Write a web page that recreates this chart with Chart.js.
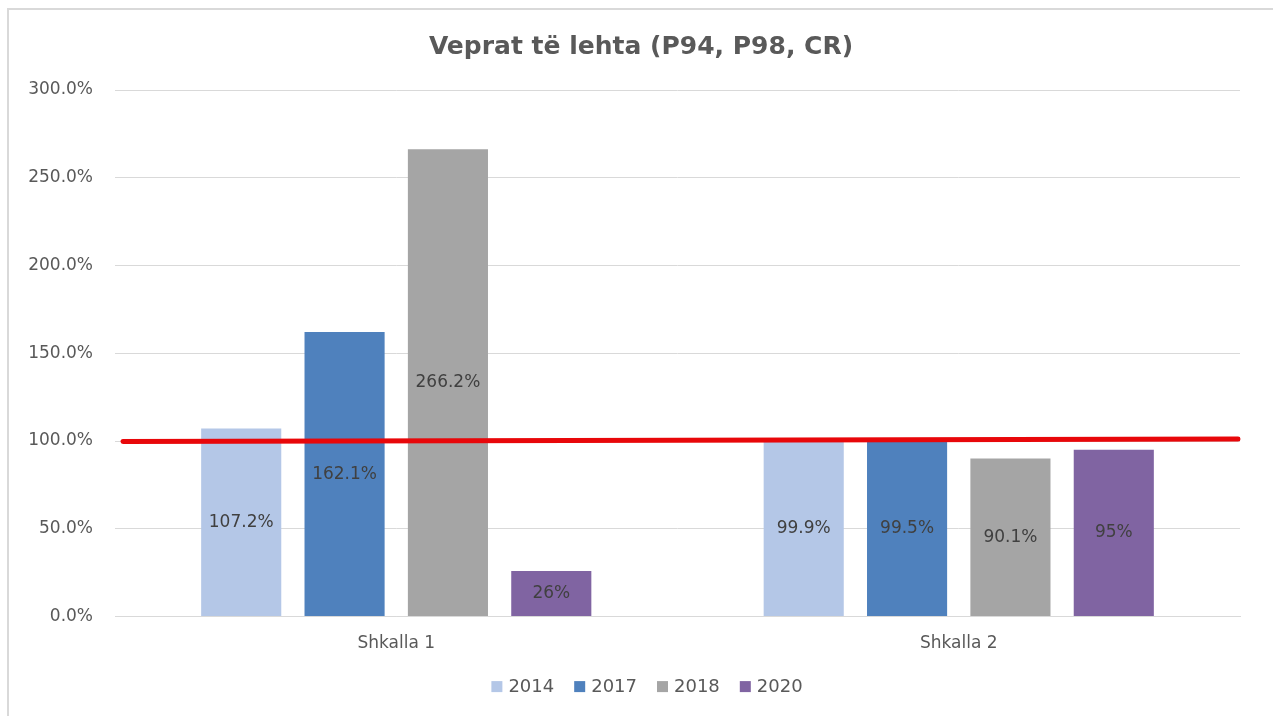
<!DOCTYPE html>
<html>
<head>
<meta charset="utf-8">
<script src="https://cdn.jsdelivr.net/npm/chart.js@4.4.1/dist/chart.umd.min.js"></script>
<style>
  html, body { margin: 0; padding: 0; background: #fff; }
  #wrap {
    position: absolute;
    left: 7px; top: 8px;
    width: 1266px; height: 708px;
    border-left: 2px solid #d9d9d9;
    border-top: 2px solid #d9d9d9;
    box-sizing: border-box;
  }
  canvas { display: block; }
</style>
</head>
<body>
<div id="wrap"><canvas id="chart"></canvas></div>
<script>
const categories = ['Shkalla 1', 'Shkalla 2']
const years = ['2014', '2017', '2018', '2020']
const values2014 = [107.2, 99.9]
const values2017 = [162.1, 99.5]
const values2018 = [266.2, 90.1]
const values2020 = [26, 95]
const valueLabels = [
  ['107.2%', '99.9%'],
  ['162.1%', '99.5%'],
  ['266.2%', '90.1%'],
  ['26%', '95%']
]
// hand-drawn 100% reference line, left and right end values
const targetLine = [99.8, 101.2]

const colors = ['#b4c7e7', '#4f81bd', '#a5a5a5', '#8064a2']
const textColor = '#595959'
const fontFamily = "'DejaVu Sans', sans-serif"

Chart.defaults.font.family = fontFamily

// draws each value in the middle of its bar
const barValues = {
  id: 'barValues',
  afterDatasetsDraw(chart) {
    const ctx = chart.ctx
    ctx.save()
    ctx.font = '17px ' + fontFamily
    ctx.fillStyle = '#404040'
    ctx.textAlign = 'center'
    ctx.textBaseline = 'middle'
    chart.data.datasets.forEach((ds, i) => {
      chart.getDatasetMeta(i).data.forEach((bar, j) => {
        const mid = (bar.y + bar.base) / 2
        ctx.fillText(valueLabels[i][j], bar.x, mid)
      })
    })
    ctx.restore()
  }
}

// red target line across the plot
const targetPlugin = {
  id: 'targetPlugin',
  afterDraw(chart) {
    const {ctx, chartArea, scales} = chart
    ctx.save()
    ctx.strokeStyle = '#e8070a'
    ctx.lineWidth = 5
    ctx.lineCap = 'round'
    ctx.beginPath()
    ctx.moveTo(chartArea.left + 8, scales.y.getPixelForValue(targetLine[0]))
    ctx.lineTo(chartArea.right - 2, scales.y.getPixelForValue(targetLine[1]))
    ctx.stroke()
    ctx.restore()
  }
}

// small legend row under the axis labels
const bottomLegend = {
  id: 'bottomLegend',
  afterDraw(chart) {
    const ctx = chart.ctx
    const box = 11, gap = 6, spacing = 20
    ctx.save()
    ctx.font = '18px ' + fontFamily
    ctx.textBaseline = 'middle'
    const widths = years.map(t => box + gap + ctx.measureText(t).width)
    const total = widths.reduce((a, b) => a + b, 0) + spacing * (years.length - 1)
    let x = chart.width / 2 - total / 2 + 6
    const y = chart.chartArea.bottom + 70
    years.forEach((t, i) => {
      ctx.fillStyle = chart.data.datasets[i].backgroundColor
      ctx.fillRect(x, y - box / 2, box, box)
      ctx.fillStyle = textColor
      ctx.fillText(t, x + box + gap, y + 1)
      x += widths[i] + spacing
    })
    ctx.restore()
  }
}

const datasets = [values2014, values2017, values2018, values2020].map((data, i) => ({
  label: years[i],
  data,
  backgroundColor: colors[i],
  categoryPercentage: 0.735,
  barPercentage: 0.775
}))

new Chart(document.getElementById('chart'), {
  type: 'bar',
  data: {labels: categories, datasets},
  options: {
    responsive: true,
    maintainAspectRatio: false,
    animation: false,
    layout: {padding: {left: 0, right: 0, top: 10, bottom: 45}},
    plugins: {
      title: {
        display: true,
        text: 'Veprat të lehta (P94, P98, CR)',
        color: textColor,
        font: {size: 25, weight: 'bold'},
        padding: {top: 12, bottom: 28}
      },
      legend: {display: false},
      tooltip: {enabled: false}
    },
    scales: {
      x: {
        grid: {display: false, drawTicks: false},
        border: {color: '#d9d9d9'},
        ticks: {color: textColor, font: {size: 17}, padding: 17}
      },
      y: {
        min: 0,
        max: 300,
        afterFit(scale) { scale.width = 106 },
        ticks: {
          stepSize: 50,
          color: textColor,
          font: {size: 17},
          padding: 22,
          callback: v => v.toFixed(1) + '%'
        },
        grid: {color: '#d9d9d9', drawTicks: false},
        border: {display: false}
      },
      // empty right axis, keeps a margin at the right of the plot
      yRight: {
        position: 'right',
        min: 0,
        max: 300,
        afterFit(scale) { scale.width = 33 },
        ticks: {display: false},
        grid: {display: false, drawTicks: false},
        border: {display: false}
      }
    }
  },
  plugins: [barValues, targetPlugin, bottomLegend]
})
</script>
</body>
</html>
